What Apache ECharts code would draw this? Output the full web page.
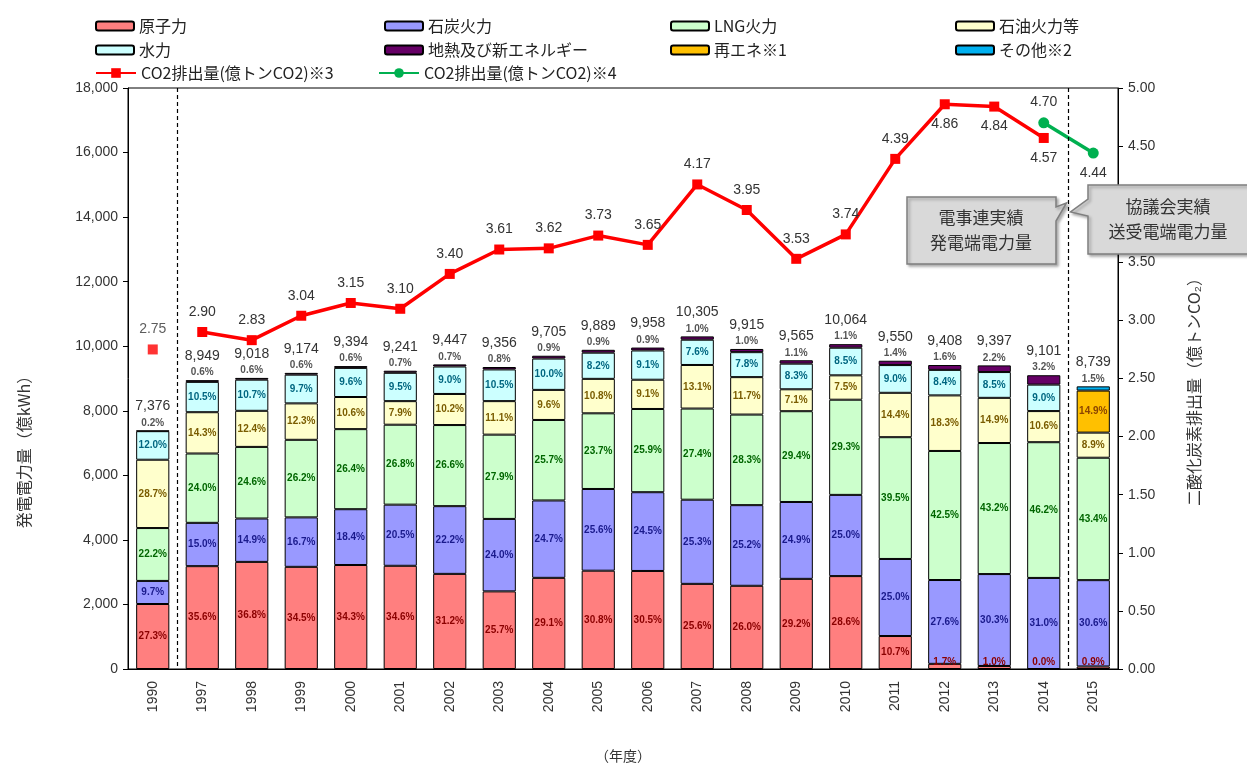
<!DOCTYPE html>
<html><head><meta charset="utf-8">
<script src="https://cdn.jsdelivr.net/npm/echarts@6/dist/echarts.min.js"></script>
<style>html,body{margin:0;padding:0;background:#fff}#c{width:1247px;height:768px}</style>
</head><body><div id="c"></div>
<script>
const years = ['1990','1997','1998','1999','2000','2001','2002','2003','2004','2005','2006','2007','2008','2009','2010','2011','2012','2013','2014','2015'];
const totals = [7376,8949,9018,9174,9394,9241,9447,9356,9705,9889,9958,10305,9915,9565,10064,9550,9408,9397,9101,8739];
const nuclearPct = [27.3,35.6,36.8,34.5,34.3,34.6,31.2,25.7,29.1,30.8,30.5,25.6,26.0,29.2,28.6,10.7,1.7,1.0,0.0,0.9];
const coalPct = [9.7,15.0,14.9,16.7,18.4,20.5,22.2,24.0,24.7,25.6,24.5,25.3,25.2,24.9,25.0,25.0,27.6,30.3,31.0,30.6];
const lngPct = [22.2,24.0,24.6,26.2,26.4,26.8,26.6,27.9,25.7,23.7,25.9,27.4,28.3,29.4,29.3,39.5,42.5,43.2,46.2,43.4];
const oilPct = [28.7,14.3,12.4,12.3,10.6,7.9,10.2,11.1,9.6,10.8,9.1,13.1,11.7,7.1,7.5,14.4,18.3,14.9,10.6,8.9];
const hydroPct = [12.0,10.5,10.7,9.7,9.6,9.5,9.0,10.5,10.0,8.2,9.1,7.6,7.8,8.3,8.5,9.0,8.4,8.5,9.0,null];
const geoPct = [0.2,0.6,0.6,0.6,0.6,0.7,0.7,0.8,0.9,0.9,0.9,1.0,1.0,1.1,1.1,1.4,1.6,2.2,3.2,null];
const renewPct = [null,null,null,null,null,null,null,null,null,null,null,null,null,null,null,null,null,null,null,14.9];
const otherPct = [null,null,null,null,null,null,null,null,null,null,null,null,null,null,null,null,null,null,null,1.5];
const co2Fepc = [2.75,2.90,2.83,3.04,3.15,3.10,3.40,3.61,3.62,3.73,3.65,4.17,3.95,3.53,3.74,4.39,4.86,4.84,4.57,null];
const co2Council = [null,null,null,null,null,null,null,null,null,null,null,null,null,null,null,null,null,null,4.70,4.44];
const co2LabelBelowYears = ['2012','2013','2014','2015'];

const FONT = '"Liberation Sans","Noto Sans CJK JP",sans-serif';
const JFONT = '"Noto Sans CJK JP","Liberation Sans",sans-serif';
const nameFepc = 'CO2排出量(億トンCO2)※3';
const nameCouncil = 'CO2排出量(億トンCO2)※4';

function seg(pct){
  return pct.map((p,i)=> p==null ? null : (p < 2.5 ? {value: totals[i]*p/100, label:{position:'insideBottom', distance:2}} : totals[i]*p/100));
}
function pctLabel(pct, color){
  return {show:true, position:'inside', fontFamily:FONT, fontSize:10, fontWeight:'bold', color:color,
    formatter:(p)=> pct[p.dataIndex]==null ? '' : pct[p.dataIndex].toFixed(1)+'%'};
}
function topLabel(pct){
  return {show:true, position:'top', distance:1, fontFamily:FONT,
    formatter:(p)=> pct[p.dataIndex]==null ? '' : '{t|'+totals[p.dataIndex].toLocaleString('en-US')+'}\n{p|'+pct[p.dataIndex].toFixed(1)+'%}',
    rich:{t:{fontSize:14,color:'#333',lineHeight:20,fontFamily:FONT,align:'center'},p:{fontSize:10,color:'#555',fontWeight:'bold',lineHeight:13,fontFamily:FONT,align:'center'}}};
}
function bar(name, pct, color, label){
  const s = {name, type:'bar', stack:'gen', barWidth:'67%', data:(label.position==='top' ? pct.map((p,i)=> p==null?null:totals[i]*p/100) : seg(pct)),
    itemStyle:{color, borderColor:'#000', borderWidth:1}, label, emphasis:{disabled:true}};
  return s;
}

const chart = echarts.init(document.getElementById('c'));
const legendCommon = {orient:'vertical', itemWidth:38, itemHeight:9, itemGap:6, top:12,
  textStyle:{fontFamily:JFONT, fontSize:16, color:'#222', lineHeight:18}};
const lineLegend = {orient:'horizontal', top:59, itemWidth:40, itemHeight:12,
  textStyle:{fontFamily:JFONT, fontSize:16, color:'#222', lineHeight:18}};

const fepcLine = co2Fepc.map((v,i)=> i===0 ? null : v);
const fepcPoint = co2Fepc.map((v,i)=> i===0 ? v : null);
function co2Label(){
  return {show:true, fontFamily:FONT, fontSize:14, color:'#333', distance:8,
    formatter:(p)=> p.value==null ? '' : Number(p.value).toFixed(2)};
}
function co2Data(arr, isCouncil){
  return arr.map((v,i)=> v==null ? null : {value:v, label:{position:(co2LabelBelowYears.includes(years[i]) && !(isCouncil && years[i]==='2014')) ? 'bottom' : 'top'}});
}

chart.setOption({
  animation:false,
  textStyle:{fontFamily:FONT},
  grid:{left:128, right:129, top:88, bottom:97, show:true, borderColor:'#000', borderWidth:1},
  legend:[
    Object.assign({}, legendCommon, {left:90, data:['原子力','水力']}),
    Object.assign({}, legendCommon, {left:379, data:['石炭火力','地熱及び新エネルギー']}),
    Object.assign({}, legendCommon, {left:665, data:['LNG火力','再エネ※1']}),
    Object.assign({}, legendCommon, {left:950, data:['石油火力等','その他※2']}),
    Object.assign({}, lineLegend, {left:90, data:[nameFepc]}),
    Object.assign({}, lineLegend, {left:373, data:[nameCouncil]})
  ],
  xAxis:{type:'category', data:years, name:'（年度）', nameLocation:'middle', nameGap:80,
    nameTextStyle:{fontFamily:JFONT, fontSize:14, color:'#333'},
    axisLine:{lineStyle:{color:'#000'}}, axisTick:{inside:true, length:5, lineStyle:{color:'#000'}},
    axisLabel:{rotate:90, margin:12, fontSize:14, color:'#333', fontFamily:FONT}},
  yAxis:[
    {type:'value', min:0, max:18000, interval:2000,
      axisLine:{show:true, lineStyle:{color:'#000'}}, axisTick:{show:true, length:5, lineStyle:{color:'#000'}},
      splitLine:{show:false},
      axisLabel:{fontSize:14, color:'#333', fontFamily:FONT, margin:10, formatter:(v)=>v.toLocaleString('en-US')}},
    {type:'value', min:0, max:5, interval:0.5, position:'right',
      axisLine:{show:true, lineStyle:{color:'#000'}}, axisTick:{show:true, length:5, lineStyle:{color:'#000'}},
      splitLine:{show:false},
      axisLabel:{fontSize:14, color:'#333', fontFamily:FONT, margin:10, formatter:(v)=>v.toFixed(2)}}
  ],
  series:[
    bar('原子力', nuclearPct, '#FF7F7F', pctLabel(nuclearPct,'#8B0000')),
    bar('石炭火力', coalPct, '#9999FF', pctLabel(coalPct,'#1A1A8C')),
    bar('LNG火力', lngPct, '#CCFFCC', pctLabel(lngPct,'#006600')),
    bar('石油火力等', oilPct, '#FFFFCC', pctLabel(oilPct,'#7A5C00')),
    bar('水力', hydroPct, '#CCFFFF', pctLabel(hydroPct,'#006680')),
    bar('地熱及び新エネルギー', geoPct, '#660066', topLabel(geoPct)),
    bar('再エネ※1', renewPct, '#FFC000', pctLabel(renewPct,'#8B4500')),
    bar('その他※2', otherPct, '#00B0F0', topLabel(otherPct)),
    {name:nameFepc, type:'line', yAxisIndex:1, data:co2Data(fepcLine,false), symbol:'rect', symbolSize:10,
      lineStyle:{color:'#FF0000', width:3.5}, itemStyle:{color:'#FF0000'}, label:co2Label(), z:5, emphasis:{disabled:true}},
    {name:nameFepc, type:'scatter', yAxisIndex:1, data:co2Data(fepcPoint,false), symbol:'rect', symbolSize:10,
      itemStyle:{color:'#FF0000'}, label:co2Label(), z:5, emphasis:{disabled:true}},
    {name:nameCouncil, type:'line', yAxisIndex:1, data:co2Data(co2Council,true), symbol:'circle', symbolSize:11,
      lineStyle:{color:'#00B050', width:3.5}, itemStyle:{color:'#00B050'}, label:co2Label(), z:5, emphasis:{disabled:true}}
  ]
});

// boundary dashed lines, axis names and callouts
const y0 = chart.convertToPixel({yAxisIndex:0}, 18000);
const y1 = chart.convertToPixel({yAxisIndex:0}, 0);
const xa = (chart.convertToPixel({xAxisIndex:0}, '1990') + chart.convertToPixel({xAxisIndex:0}, '1997'))/2;
const xb = (chart.convertToPixel({xAxisIndex:0}, '2014') + chart.convertToPixel({xAxisIndex:0}, '2015'))/2;
const dash = {stroke:'#000', lineWidth:1.2, lineDash:[4,3]};
const boxStyle = {fill:'#D9D9D9', stroke:'#7F7F7F', lineWidth:1.5, shadowBlur:3, shadowColor:'rgba(0,0,0,0.3)', shadowOffsetX:2, shadowOffsetY:2};
chart.setOption({graphic:[
  {type:'line', shape:{x1:xa, y1:y0, x2:xa, y2:y1}, style:dash, z:10},
  {type:'line', shape:{x1:xb, y1:y0, x2:xb, y2:y1}, style:dash, z:10},
  {type:'text', x:24, y:448, rotation:Math.PI/2, style:{text:'発電電力量（億kWh）', fontFamily:JFONT, fontSize:16, fill:'#333', align:'center', verticalAlign:'middle'}},
  {type:'text', x:1194, y:388, rotation:Math.PI/2, style:{text:'二酸化炭素排出量（億トンCO₂）', fontFamily:JFONT, fontSize:16, fill:'#333', align:'center', verticalAlign:'middle'}},
  {type:'polygon', shape:{points:[[907,197],[1056,197],[1056,207],[xb-2,203],[1056,221],[1056,264],[907,264]]}, style:boxStyle, z:20},
  {type:'text', x:981, y:230, style:{text:'電事連実績\n発電端電力量', fontFamily:JFONT, fontSize:17, fill:'#333', align:'center', verticalAlign:'middle', lineHeight:25}, z:21},
  {type:'polygon', shape:{points:[[1088,185],[1250,185],[1250,254],[1088,254],[1088,216],[xb+2,212],[1088,199]]}, style:boxStyle, z:20},
  {type:'text', x:1168, y:219, style:{text:'協議会実績\n送受電端電力量', fontFamily:JFONT, fontSize:17, fill:'#333', align:'center', verticalAlign:'middle', lineHeight:25}, z:21}
]});
</script></body></html>
